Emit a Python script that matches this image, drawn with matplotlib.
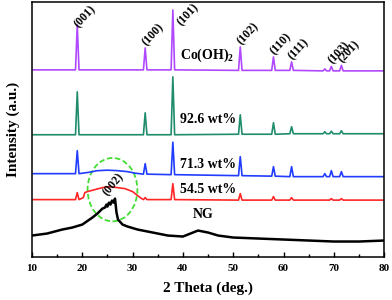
import numpy as np
import matplotlib
matplotlib.use("Agg")
import matplotlib.pyplot as plt
from matplotlib.patches import Ellipse

plt.rcParams['font.family'] = 'Liberation Serif'
plt.rcParams['font.weight'] = 'bold'
plt.rcParams['axes.labelweight'] = 'bold'
plt.rcParams['mathtext.fontset'] = 'custom'
plt.rcParams['mathtext.rm'] = 'Liberation Serif:bold'
plt.rcParams['mathtext.default'] = 'rm'

# peak positions (2 theta, deg)
peak_pos = [19.0, 32.5, 38.0, 51.4, 58.0, 61.6, 68.2, 69.5, 71.5]

# (hkl) labels and where they sit
hkl = ['(001)', '(100)', '(101)', '(102)', '(110)', '(111)', '(103)', '(201)']
hkl_x = [19.0, 32.5, 39.4, 51.4, 58.0, 61.6, 69.5, 71.5]
hkl_y = [228, 210, 230, 211, 201, 196, 191.5, 192.5]

# Co(OH)2 (offset trace)
coh_feet = [188, 188, 188, 187.5, 187.5, 187.5, 187, 187, 187]
coh_tops = [233, 210, 248, 211, 201, 196, 189, 191.5, 192.5]
coh_ends = [188, 187]

# 92.6 wt%
g926_feet = [123, 123, 123, 123.5, 123.5, 124, 124, 124, 124]
g926_tops = [166, 145, 181, 143, 135, 131, 126, 126.5, 127]
g926_ends = [123, 124]

# 71.3 wt%
b713_feet = [84, 83.5, 83, 82, 81.5, 81, 81, 81, 81]
b713_tops = [107, 94, 115.5, 101, 91, 91, 84, 87, 86]
b713_ends = [84, 81]
b713_hump_x = [21.5, 23.0, 25.0, 27.0, 29.0, 30.5]
b713_hump_y = [85.5, 87, 87.5, 87, 86, 84.5]

# 54.5 wt%
r545_feet = [58, 58, 58, 57.5, 57.5, 57.5, 57.5, 57.5, 57.5]
r545_tops = [65, 60, 74, 64, 61, 60, 57.5, 59, 59]
r545_ends = [58, 57.5]
r545_hump_x = [20.2, 20.5, 21.0, 22.5, 24.0, 25.5, 27.0, 28.5, 30.0, 31.0, 31.8]
r545_hump_y = [60, 65, 66, 68, 70, 71, 70, 69, 66, 62, 59]

# NG
ng_x = [10, 13, 16, 18, 20, 22, 23, 24, 24.5, 24.8, 25.0, 25.3, 25.6, 25.9, 26.2,
        26.5, 26.8, 27.1, 28, 29, 31, 33, 35, 37, 40, 42, 43, 45, 47, 50, 55,
        60, 65, 70, 75, 80]
ng_y = [22, 24, 28, 30, 33, 40, 44, 49, 50, 53, 51, 55, 53, 57, 55,
        59, 45, 38, 33, 31, 28, 26, 24, 22, 21, 25, 27, 25, 22, 20, 19,
        18, 17, 16, 16, 17]

sample_labels = ['Co(OH)$_2$', '92.6 wt%', '71.3 wt%', '54.5 wt%', 'NG']
label_x = [39.4, 39.4, 39.4, 39.4, 42.0]
label_y = [203, 138, 93, 68, 43]

colors = ['#b048ff', '#1f8c6c', '#1f3cff', '#ff2626', 'black']


def trace(feet, tops, ends, hump_x=(), hump_y=()):
    pts = [(10, ends[0]), (80, ends[1])]
    for p, f, t in zip(peak_pos, feet, tops):
        pts += [(p - 0.35, f), (p, t), (p + 0.35, f)]
    pts += list(zip(hump_x, hump_y))
    pts.sort()
    return [a for a, b in pts], [b for a, b in pts]


fig = plt.figure(figsize=(3.92, 3.0), dpi=100)
ax = fig.add_axes([0.0816, 0.1417, 0.8984, 0.8516])

series = [trace(coh_feet, coh_tops, coh_ends),
          trace(g926_feet, g926_tops, g926_ends),
          trace(b713_feet, b713_tops, b713_ends, b713_hump_x, b713_hump_y),
          trace(r545_feet, r545_tops, r545_ends, r545_hump_x, r545_hump_y),
          (ng_x, ng_y)]
for (xs, ys), c in zip(series, colors):
    ax.plot(xs, ys, color=c, lw=1.2 if c != 'black' else 1.8)

# (hkl) labels on the Co(OH)2 trace
for lab, hx, hy in zip(hkl, hkl_x, hkl_y):
    ax.annotate(lab, (hx, hy), xytext=(2.5, 0), textcoords='offset points', rotation=47,
                rotation_mode='anchor', ha='left', va='bottom', fontsize=8.5,
                fontweight='bold', annotation_clip=False)
ax.text(25.4, 59, '(002)', rotation=50, rotation_mode='anchor', ha='left', va='bottom',
        fontsize=8.5, fontweight='bold')

for lab, lx, ly in zip(sample_labels, label_x, label_y):
    ax.text(lx, ly, lab, ha='left', va='center', fontsize=10, fontweight='bold')

ax.add_patch(Ellipse((26.0, 68), 9.9, 63.5, fill=False, ls=(0, (3, 1.5)),
                     color='#44dd33', lw=1.3))

ax.set_xlim(10, 80)
ax.set_ylim(0, 256)
ax.set_xticks(np.arange(10, 81, 10))
ax.set_xticks(np.arange(15, 80, 10), minor=True)
ax.set_yticks([])
ax.tick_params(axis='x', which='major', direction='in', length=3.5, width=1, labelsize=8, pad=4.5)
ax.tick_params(axis='x', which='minor', direction='in', length=2.5, width=1)
for lbl in ax.get_xticklabels():
    lbl.set_fontweight('bold')
for s in ax.spines.values():
    s.set_linewidth(1.1)

ax.set_xlabel('2 Theta (deg.)', fontsize=11, fontweight='bold')
ax.set_ylabel('Intensity (a.u.)', fontsize=11, fontweight='bold')
ax.xaxis.set_label_coords(0.5, -0.095)
ax.yaxis.set_label_coords(-0.035, 0.5)

fig.savefig('out.png', dpi=100)
